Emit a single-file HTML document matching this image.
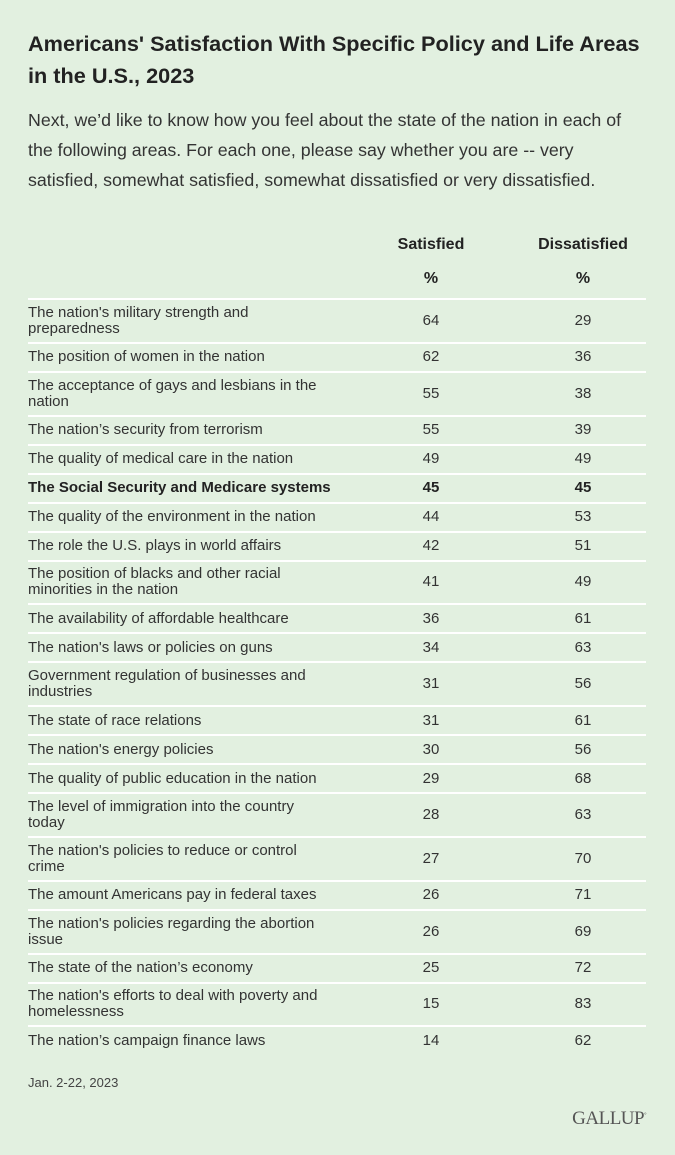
<!DOCTYPE html>
<html><head><style>
body{margin:0;background:#e2f0e0;font-family:"Liberation Sans",sans-serif;}
.wrap{position:relative;width:675px;height:1155px;background:#e2f0e0;}
h1{position:absolute;left:28px;top:28px;margin:0;font-size:21.7px;line-height:32px;font-weight:bold;color:#222;width:640px;white-space:nowrap;}
.sub{position:absolute;left:28px;top:105px;margin:0;font-size:17.8px;line-height:30px;color:#333;width:640px;white-space:nowrap;}
.hd{position:absolute;font-weight:bold;font-size:16px;color:#222;text-align:center;width:140px;}
table{position:absolute;left:28px;top:298px;width:618px;border-collapse:collapse;table-layout:fixed;}
td{border-top:2.5px solid #fff;font-size:15px;color:#333;line-height:16px;padding:0;}
td.l{width:330px;}
td.n{text-align:center;width:146px;}
td.m{text-align:center;width:142px;padding-left:16px;box-sizing:border-box;}
tr.s td{height:27px;}
tr.d td{height:41.8px;}
tr.b td{font-weight:bold;color:#222;}
.foot{position:absolute;left:28px;top:1075px;font-size:13px;color:#444;}
.g{position:absolute;right:29px;top:1108px;font-family:"Liberation Serif",serif;font-size:19px;color:#555;letter-spacing:-0.5px;}
</style></head><body><div class="wrap">
<h1>Americans' Satisfaction With Specific Policy and Life Areas<br>in the U.S., 2023</h1>
<p class="sub">Next, we’d like to know how you feel about the state of the nation in each of<br>the following areas. For each one, please say whether you are -- very<br>satisfied, somewhat satisfied, somewhat dissatisfied or very dissatisfied.</p>
<div class="hd" style="left:361px;top:236px">Satisfied</div>
<div class="hd" style="left:513px;top:236px">Dissatisfied</div>
<div class="hd" style="left:361px;top:270px">%</div>
<div class="hd" style="left:513px;top:270px">%</div>
<table>
<tr class="d"><td class="l">The nation's military strength and<br>preparedness</td><td class="n">64</td><td class="m">29</td></tr>
<tr class="s"><td class="l">The position of women in the nation</td><td class="n">62</td><td class="m">36</td></tr>
<tr class="d"><td class="l">The acceptance of gays and lesbians in the<br>nation</td><td class="n">55</td><td class="m">38</td></tr>
<tr class="s"><td class="l">The nation’s security from terrorism</td><td class="n">55</td><td class="m">39</td></tr>
<tr class="s"><td class="l">The quality of medical care in the nation</td><td class="n">49</td><td class="m">49</td></tr>
<tr class="s b"><td class="l">The Social Security and Medicare systems</td><td class="n">45</td><td class="m">45</td></tr>
<tr class="s"><td class="l">The quality of the environment in the nation</td><td class="n">44</td><td class="m">53</td></tr>
<tr class="s"><td class="l">The role the U.S. plays in world affairs</td><td class="n">42</td><td class="m">51</td></tr>
<tr class="d"><td class="l">The position of blacks and other racial<br>minorities in the nation</td><td class="n">41</td><td class="m">49</td></tr>
<tr class="s"><td class="l">The availability of affordable healthcare</td><td class="n">36</td><td class="m">61</td></tr>
<tr class="s"><td class="l">The nation's laws or policies on guns</td><td class="n">34</td><td class="m">63</td></tr>
<tr class="d"><td class="l">Government regulation of businesses and<br>industries</td><td class="n">31</td><td class="m">56</td></tr>
<tr class="s"><td class="l">The state of race relations</td><td class="n">31</td><td class="m">61</td></tr>
<tr class="s"><td class="l">The nation's energy policies</td><td class="n">30</td><td class="m">56</td></tr>
<tr class="s"><td class="l">The quality of public education in the nation</td><td class="n">29</td><td class="m">68</td></tr>
<tr class="d"><td class="l">The level of immigration into the country<br>today</td><td class="n">28</td><td class="m">63</td></tr>
<tr class="d"><td class="l">The nation's policies to reduce or control<br>crime</td><td class="n">27</td><td class="m">70</td></tr>
<tr class="s"><td class="l">The amount Americans pay in federal taxes</td><td class="n">26</td><td class="m">71</td></tr>
<tr class="d"><td class="l">The nation's policies regarding the abortion<br>issue</td><td class="n">26</td><td class="m">69</td></tr>
<tr class="s"><td class="l">The state of the nation’s economy</td><td class="n">25</td><td class="m">72</td></tr>
<tr class="d"><td class="l">The nation's efforts to deal with poverty and<br>homelessness</td><td class="n">15</td><td class="m">83</td></tr>
<tr class="s"><td class="l">The nation’s campaign finance laws</td><td class="n">14</td><td class="m">62</td></tr>
</table>
<div class="foot">Jan. 2-22, 2023</div>
<div class="g">GALLUP<sup style="font-size:6px">°</sup></div>
</div></body></html>
